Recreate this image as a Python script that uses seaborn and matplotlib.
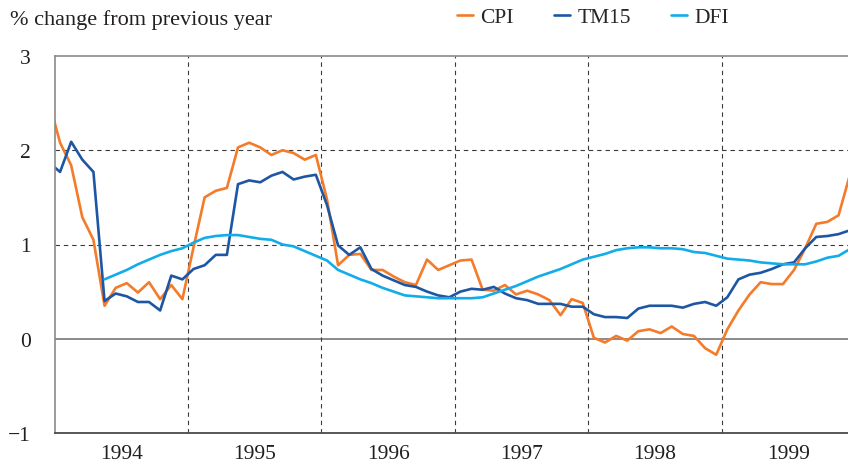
import numpy as np
import pandas as pd
import seaborn as sns
import matplotlib.pyplot as plt

# monthly, Dec 1993 .. Dec 1999 (index -1 .. 71)
cpi = [2.52,
       2.08, 1.84, 1.29, 1.05, 0.35, 0.54, 0.59, 0.49, 0.60, 0.42, 0.57, 0.42,
       0.97, 1.50, 1.57, 1.60, 2.03, 2.08, 2.03, 1.95, 2.00, 1.97, 1.90, 1.95,
       1.48, 0.78, 0.89, 0.90, 0.73, 0.73, 0.66, 0.60, 0.57, 0.84, 0.73, 0.78,
       0.83, 0.84, 0.52, 0.51, 0.57, 0.47, 0.51, 0.47, 0.41, 0.25, 0.42, 0.38,
       0.01, -0.04, 0.03, -0.02, 0.08, 0.10, 0.06, 0.13, 0.05, 0.03, -0.10, -0.17,
       0.10, 0.30, 0.47, 0.60, 0.58, 0.58, 0.73, 0.96, 1.22, 1.24, 1.31, 1.73]
tm15 = [1.87,
        1.77, 2.09, 1.90, 1.77, 0.40, 0.48, 0.45, 0.39, 0.39, 0.30, 0.67, 0.63,
        0.74, 0.78, 0.89, 0.89, 1.64, 1.68, 1.66, 1.73, 1.77, 1.69, 1.72, 1.74,
        1.42, 0.99, 0.89, 0.97, 0.74, 0.67, 0.62, 0.57, 0.55, 0.50, 0.46, 0.44,
        0.50, 0.53, 0.52, 0.55, 0.48, 0.43, 0.41, 0.37, 0.37, 0.37, 0.34, 0.34,
        0.26, 0.23, 0.23, 0.22, 0.32, 0.35, 0.35, 0.35, 0.33, 0.37, 0.39, 0.35,
        0.44, 0.63, 0.68, 0.70, 0.74, 0.79, 0.81, 0.96, 1.08, 1.09, 1.11, 1.15]
dfi = [np.nan,
       np.nan, np.nan, np.nan, np.nan, 0.63, 0.68, 0.73, 0.79, 0.84, 0.89, 0.93, 0.96,
       1.02, 1.07, 1.09, 1.10, 1.10, 1.08, 1.06, 1.05, 1.00, 0.98, 0.93, 0.88,
       0.83, 0.73, 0.68, 0.63, 0.59, 0.54, 0.50, 0.46, 0.45, 0.44, 0.43, 0.43,
       0.43, 0.43, 0.44, 0.48, 0.52, 0.56, 0.61, 0.66, 0.70, 0.74, 0.79, 0.84,
       0.87, 0.90, 0.94, 0.96, 0.97, 0.97, 0.96, 0.96, 0.95, 0.92, 0.91, 0.88,
       0.85, 0.84, 0.83, 0.81, 0.80, 0.79, 0.79, 0.79, 0.82, 0.86, 0.88, 0.95]
years = ["1994", "1995", "1996", "1997", "1998", "1999"]
series = ["CPI", "TM15", "DFI"]
colors = {"CPI": "#F47B2A", "TM15": "#1D57A3", "DFI": "#12ADE8"}

month = np.arange(-1, 72) + 0.5
df = pd.DataFrame({"month": month, "CPI": cpi, "TM15": tm15, "DFI": dfi})
long = df.melt(id_vars="month", var_name="series", value_name="value").dropna()

sns.set_style("white")
plt.rcParams["font.family"] = ["Liberation Serif", "DejaVu Serif"]
plt.rcParams["font.size"] = 15.5

fig = plt.figure(figsize=(8.48, 4.64), dpi=100)
ax = fig.add_axes([54.5 / 848, 1 - 434 / 464, 1 - 54.5 / 848, (434 - 57) / 464])

sns.lineplot(data=long, x="month", y="value", hue="series", hue_order=series,
             palette=colors, linewidth=1.9, ax=ax)

ax.set_xlim(0, 71.35)
ax.set_ylim(-1, 3)

# grid
for y in [1, 2]:
    ax.axhline(y, color="#3a3a3a", lw=0.8, dashes=(4, 3.5), zorder=0)
ax.axhline(0, color="#8a8a8a", lw=1.4, zorder=0)
for x in [12, 24, 36, 48, 60]:
    ax.axvline(x, color="#3a3a3a", lw=0.8, dashes=(4, 3.5), zorder=0)

ax.set_xticks([6, 18, 30, 42, 54, 66])
ax.set_xticklabels(years)
ax.set_yticks([-1, 0, 1, 2, 3])
ax.set_yticklabels(["\u22121", "0", "1", "2", "3"])
ax.tick_params(axis="both", length=0, labelsize=15.5, colors="#231f20")
ax.tick_params(axis="y", pad=17)
ax.tick_params(axis="x", pad=8)
ax.set_xlabel("")
ax.set_ylabel("")

for s in ["left", "top"]:
    ax.spines[s].set_color("#8a8a8a")
    ax.spines[s].set_linewidth(1.2)
ax.spines["bottom"].set_color("#4a4a4a")
ax.spines["bottom"].set_linewidth(1.3)
ax.spines["right"].set_visible(False)

handles, labels = ax.get_legend_handles_labels()
ax.get_legend().remove()
fig.legend(handles, labels, loc="center", bbox_to_anchor=(0.699, 0.961), ncol=3,
           frameon=False, handlelength=0.75, handletextpad=0.35, columnspacing=1.85,
           fontsize=15.5)

fig.text(10 / 848, 1 - 20 / 464, "% change from previous year", fontsize=16,
         va="center", ha="left", color="#231f20")

fig.savefig("out.png", dpi=100)
